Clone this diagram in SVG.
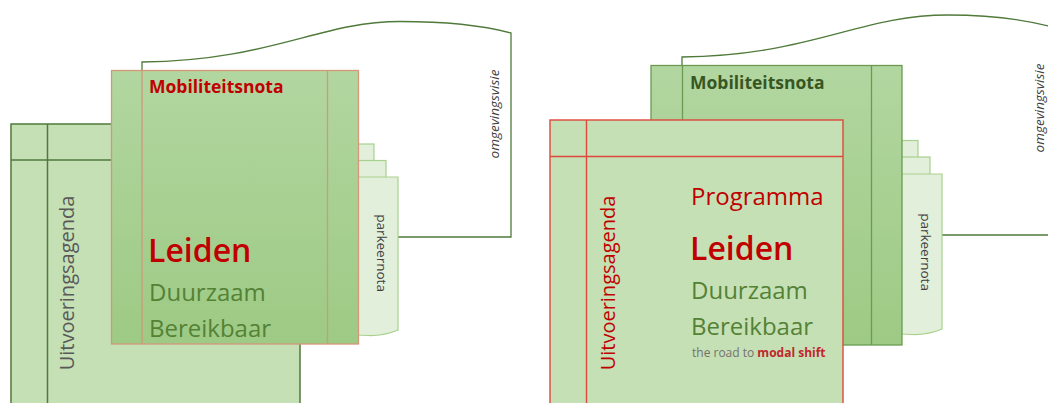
<svg xmlns="http://www.w3.org/2000/svg" width="1048" height="403" viewBox="0 0 1048 403">
  <defs>
    <linearGradient id="notaFill" x1="0" y1="0" x2="0" y2="1">
      <stop offset="0" stop-color="#b2d6a0"/>
      <stop offset="1" stop-color="#9dca84"/>
    </linearGradient>
    <style>
      text { font-family: "Open Sans", "Noto Sans", "DejaVu Sans", sans-serif; }
      .agenda { fill: #c5e0b4; }
      .nota { fill: url(#notaFill); }
      .page { fill: #e2efda; stroke: #a9d18e; stroke-width: 1.2; }
      .link { fill: none; stroke: #4f7a3a; stroke-width: 1.3; }
      .t-title { font-size: 17.5px; font-weight: 700; }
      .t-big { font-size: 32px; font-weight: 600; fill: #c00000; }
      .t-mid { font-size: 24px; fill: #548235; }
      .t-side { font-size: 20px; }
      .t-small { font-size: 13.5px; fill: #404040; }
      .t-italic { font-size: 13.5px; font-style: italic; fill: #404040; }
    </style>
  </defs>

  <!-- Connectors: omgevingsvisie document outline linking parkeernota and the mobiliteitsnota -->
  <g id="connectors">
    <path class="link" d="M398,237 L511,237 L511,33 C485,26 450,21.5 400,21.5 C320,21.5 270,61 142,62 L142,71"/>
    <path class="link" d="M942,235 L1052,235 L1052,27 C1030,21 995,15 948,15 C860,15 810,56 682,57 L682,66"/>
    <text class="t-italic" text-anchor="middle" transform="translate(498.5,114) rotate(-90)">omgevingsvisie</text>
    <text class="t-italic" text-anchor="middle" transform="translate(1044,108) rotate(-90)">omgevingsvisie</text>
  </g>

  <!-- ===== Left scheme ===== -->
  <g id="left-uitvoeringsagenda">
    <rect class="agenda" x="11" y="124" width="289" height="290" stroke="#4f7a3a" stroke-width="1.5"/>
    <line x1="47.5" y1="124" x2="47.5" y2="403" stroke="#4f7a3a" stroke-width="1.5"/>
    <line x1="11" y1="160" x2="300" y2="160" stroke="#4f7a3a" stroke-width="1.5"/>
    <text class="t-side" fill="#595959" text-anchor="middle" transform="translate(74,283) rotate(-90)">Uitvoeringsagenda</text>
  </g>

  <g id="left-parkeernota">
    <rect class="page" x="356" y="144" width="18" height="60"/>
    <rect class="page" x="356" y="160.5" width="30" height="60"/>
    <path class="page" d="M356,177 L398,177 L398,330 Q384,336 368,335.5 L356,335 Z"/>
    <text class="t-small" text-anchor="middle" transform="translate(377,253) rotate(90)">parkeernota</text>
  </g>

  <g id="left-mobiliteitsnota">
    <rect class="nota" x="111.5" y="70.5" width="247" height="273.5" stroke="#d4977a" stroke-width="1.3"/>
    <line x1="142" y1="70.5" x2="142" y2="344" stroke="#d4977a" stroke-width="1.3"/>
    <line x1="327.5" y1="70.5" x2="327.5" y2="344" stroke="#d4977a" stroke-width="1.3"/>
    <text class="t-title" x="149" y="93" fill="#c00000">Mobiliteitsnota</text>
    <text class="t-big" x="148" y="262">Leiden</text>
    <text class="t-mid" x="149" y="300.5">Duurzaam</text>
    <text class="t-mid" x="149" y="336.5">Bereikbaar</text>
  </g>

  <!-- ===== Right scheme ===== -->
  <g id="right-parkeernota">
    <rect class="page" x="900" y="140.5" width="18" height="60"/>
    <rect class="page" x="900" y="157" width="30" height="60"/>
    <path class="page" d="M900,174 L942,174 L942,329 Q928,335 912,334.5 L900,334 Z"/>
    <text class="t-small" text-anchor="middle" transform="translate(921,252) rotate(90)">parkeernota</text>
  </g>

  <g id="right-mobiliteitsnota">
    <rect class="nota" x="651" y="65.5" width="251" height="279.5" stroke="#6b9a52" stroke-width="1.3"/>
    <line x1="682.5" y1="65.5" x2="682.5" y2="345" stroke="#6b9a52" stroke-width="1.3"/>
    <line x1="871.5" y1="65.5" x2="871.5" y2="345" stroke="#6b9a52" stroke-width="1.3"/>
    <text class="t-title" x="690" y="89" fill="#375623">Mobiliteitsnota</text>
  </g>

  <g id="right-uitvoeringsagenda">
    <rect class="agenda" x="550" y="120" width="293" height="294" stroke="#e0483e" stroke-width="1.4"/>
    <line x1="586.5" y1="120" x2="586.5" y2="403" stroke="#e0483e" stroke-width="1.4"/>
    <line x1="550" y1="156.5" x2="843" y2="156.5" stroke="#e0483e" stroke-width="1.4"/>
    <text class="t-side" fill="#c00000" text-anchor="middle" transform="translate(615,283) rotate(-90)">Uitvoeringsagenda</text>
    <text class="t-mid" x="691" y="205" fill="#c00000" style="fill:#c00000">Programma</text>
    <text class="t-big" x="690" y="260">Leiden</text>
    <text class="t-mid" x="691" y="298.5">Duurzaam</text>
    <text class="t-mid" x="691" y="335">Bereikbaar</text>
    <text x="692" y="357" font-size="12" fill="#767171">the road to <tspan font-weight="700" fill="#c0272d">modal shift</tspan></text>
  </g>
</svg>
